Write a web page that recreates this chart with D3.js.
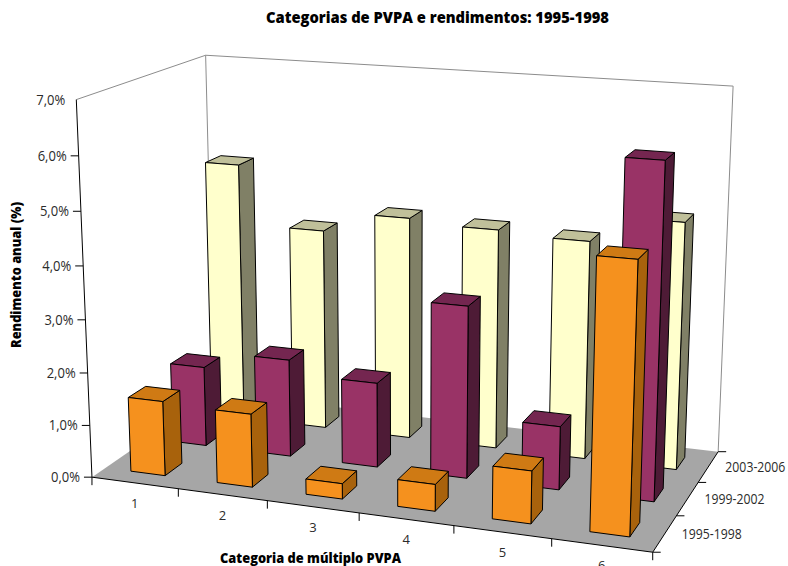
<!DOCTYPE html>
<html>
<head>
<meta charset="utf-8">
<script src="https://cdn.jsdelivr.net/npm/d3@7"></script>
<style>
  body { margin: 0; background: #fff; }
  svg { display: block; }
  text { font-family: "Open Sans", Lato, sans-serif; fill: #2b2b2b; }
</style>
</head>
<body>
<div id="my_dataviz"></div>
<script>
var categories = ["1", "2", "3", "4", "5", "6"];
var series = ["1995-1998", "1999-2002", "2003-2006"];
var valueTicks = [0, 1, 2, 3, 4, 5, 6, 7];

// rendimento anual (%) por categoria
var values1995 = [1.43, 1.39, 0.29, 0.5, 0.97, 4.87];
var values1999 = [1.56, 1.89, 1.63, 3.27, 1.2, 6.18];
var values2003 = [5.12, 3.96, 4.35, 4.27, 4.2, 4.7];
var allValues = [values1995, values1999, values2003];

var colors = [
  { front: "#F5911E", side: "#A8620C", top: "#CF7A14" },
  { front: "#993366", side: "#4E1B36", top: "#742650" },
  { front: "#FFFFCC", side: "#808066", top: "#C0C09A" }
];

var width = 788, height = 566;

var svg = d3.select("#my_dataviz").append("svg")
  .attr("width", width)
  .attr("height", height);

// world scales: x = 0..6, y = 0..7, z = 0..3
var x = d3.scaleBand().domain(categories).range([0, 6]).paddingInner(0.6).paddingOuter(0.3);
var z = d3.scaleBand().domain(series).range([0, 3]).paddingInner(0.6).paddingOuter(0.3);
var xMid = d3.scalePoint().domain(categories).range([0.5, 5.5]);
var zMid = d3.scalePoint().domain(series).range([0.5, 2.5]);
var y = d3.scaleLinear().domain([0, 7]).range([0, 7]);

var calib = [
  [0, 0, 0, 92, 477],
  [6, 0, 0, 653, 552],
  [6, 0, 3, 718, 452],
  [0, 0, 3, 214, 393],
  [0, 7, 0, 76, 100],
  [0, 7, 3, 206, 55],
  [6, 7, 3, 733, 86]
];

// least squares for a 3x4 projection matrix with last term = 1
function fitCamera(pts) {
  var n = 11, A = [], i, j, k;
  for (i = 0; i < n; i++) { A.push(d3.range(n + 1).map(function() { return 0; })); }
  function addRow(r, b) {
    for (i = 0; i < n; i++) {
      for (j = 0; j < n; j++) { A[i][j] += r[i] * r[j]; }
      A[i][n] += r[i] * b;
    }
  }
  pts.forEach(function(p) {
    addRow([p[0], p[1], p[2], 1, 0, 0, 0, 0, -p[3] * p[0], -p[3] * p[1], -p[3] * p[2]], p[3]);
    addRow([0, 0, 0, 0, p[0], p[1], p[2], 1, -p[4] * p[0], -p[4] * p[1], -p[4] * p[2]], p[4]);
  });
  for (i = 0; i < n; i++) {
    var piv = i;
    for (k = i + 1; k < n; k++) { if (Math.abs(A[k][i]) > Math.abs(A[piv][i])) piv = k; }
    var tmp = A[i]; A[i] = A[piv]; A[piv] = tmp;
    for (k = 0; k < n; k++) {
      if (k === i) continue;
      var f = A[k][i] / A[i][i];
      for (j = i; j <= n; j++) { A[k][j] -= f * A[i][j]; }
    }
  }
  return A.map(function(row, r) { return row[n] / row[r]; });
}

var cam = fitCamera(calib);

function project(wx, wy, wz) {
  var w = cam[8] * wx + cam[9] * wy + cam[10] * wz + 1;
  return [
    (cam[0] * wx + cam[1] * wy + cam[2] * wz + cam[3]) / w,
    (cam[4] * wx + cam[5] * wy + cam[6] * wz + cam[7]) / w
  ];
}

function segment(a, b, color, w) {
  svg.append("line")
    .attr("x1", a[0]).attr("y1", a[1])
    .attr("x2", b[0]).attr("y2", b[1])
    .style("stroke", color)
    .style("stroke-width", w);
}

// floor
svg.append("polygon")
  .attr("points", [project(0, 0, 0), project(6, 0, 0), project(6, 0, 3), project(0, 0, 3)].join(" "))
  .style("fill", "#A6A6A6");

// walls
var wallColor = "#8c8c8c";
segment(project(0, y(7), 0), project(0, y(7), 3), wallColor, 1);
segment(project(0, y(7), 3), project(6, y(7), 3), wallColor, 1);
segment(project(0, y(7), 3), project(0, 0, 3), wallColor, 1);
segment(project(6, y(7), 3), project(6, 0, 3), wallColor, 1);

// value axis
segment(project(0, y(0), 0), project(0, y(7), 0), "#000", 1);
valueTicks.forEach(function(t) {
  var p = project(0, y(t), 0);
  if (t > 0 && t < 7) segment(p, [p[0] - 8, p[1]], "#000", 1);
  svg.append("text")
    .attr("x", p[0] - (t === 7 ? 11 : 12))
    .attr("y", p[1] + 5)
    .attr("text-anchor", "end")
    .attr("textLength", 29)
    .attr("lengthAdjust", "spacingAndGlyphs")
    .style("font-size", "14px")
    .text(d3.format(".1f")(t).replace(".", ",") + "%");
});
var zero = project(0, 0, 0);
segment(zero, [zero[0] - 8, zero[1]], "#000", 1);

// category axis
segment(project(0, 0, 0), project(6, 0, 0), "#000", 1);
d3.range(0, 7).forEach(function(i) {
  var p = project(i, 0, 0);
  segment(p, [p[0], p[1] + 8], "#000", 1);
});
categories.forEach(function(c) {
  var p = project(xMid(c), 0, 0);
  svg.append("text")
    .attr("x", p[0])
    .attr("y", p[1] + 25)
    .attr("text-anchor", "middle")
    .style("font-size", "13px")
    .text(c);
});

// series axis
segment(project(6, 0, 0), project(6, 0, 3), "#000", 1);
d3.range(0, 4).forEach(function(i) {
  var p = project(6, 0, i);
  segment(p, [p[0] + 8, p[1]], "#000", 1);
});
series.forEach(function(s) {
  var p = project(6, 0, zMid(s));
  svg.append("text")
    .attr("x", p[0] + 17)
    .attr("y", p[1] + 5)
    .attr("textLength", 60)
    .attr("lengthAdjust", "spacingAndGlyphs")
    .style("font-size", "14px")
    .text(s);
});

// bars, back row first, left to right
function face(pts, color) {
  svg.append("polygon")
    .attr("points", pts.join(" "))
    .style("fill", color)
    .style("stroke", "#000")
    .style("stroke-width", 1)
    .style("stroke-linejoin", "round");
}

d3.range(series.length - 1, -1, -1).forEach(function(s) {
  categories.forEach(function(c, i) {
    var x0 = x(c), x1 = x0 + x.bandwidth();
    var z0 = z(series[s]), z1 = z0 + z.bandwidth();
    var v = y(allValues[s][i]);
    face([project(x1, 0, z0), project(x1, 0, z1), project(x1, v, z1), project(x1, v, z0)], colors[s].side);
    face([project(x0, v, z0), project(x1, v, z0), project(x1, v, z1), project(x0, v, z1)], colors[s].top);
    face([project(x0, 0, z0), project(x1, 0, z0), project(x1, v, z0), project(x0, v, z0)], colors[s].front);
  });
});

// titles
svg.append("text")
  .attr("x", 437.5).attr("y", 23)
  .attr("text-anchor", "middle")
  .attr("textLength", 343)
  .attr("lengthAdjust", "spacingAndGlyphs")
  .style("font-size", "15.5px")
  .style("font-weight", "800")
  .style("fill", "#000")
  .text("Categorias de PVPA e rendimentos: 1995-1998");

svg.append("text")
  .attr("transform", "translate(21,275) rotate(-90)")
  .attr("text-anchor", "middle")
  .attr("textLength", 146)
  .attr("lengthAdjust", "spacingAndGlyphs")
  .style("font-size", "14px")
  .style("font-weight", "800")
  .style("fill", "#000")
  .text("Rendimento anual (%)");

svg.append("text")
  .attr("x", 310.5).attr("y", 563)
  .attr("text-anchor", "middle")
  .attr("textLength", 181)
  .attr("lengthAdjust", "spacingAndGlyphs")
  .style("font-size", "14px")
  .style("font-weight", "800")
  .style("fill", "#000")
  .text("Categoria de múltiplo PVPA");
</script>
</body>
</html>
